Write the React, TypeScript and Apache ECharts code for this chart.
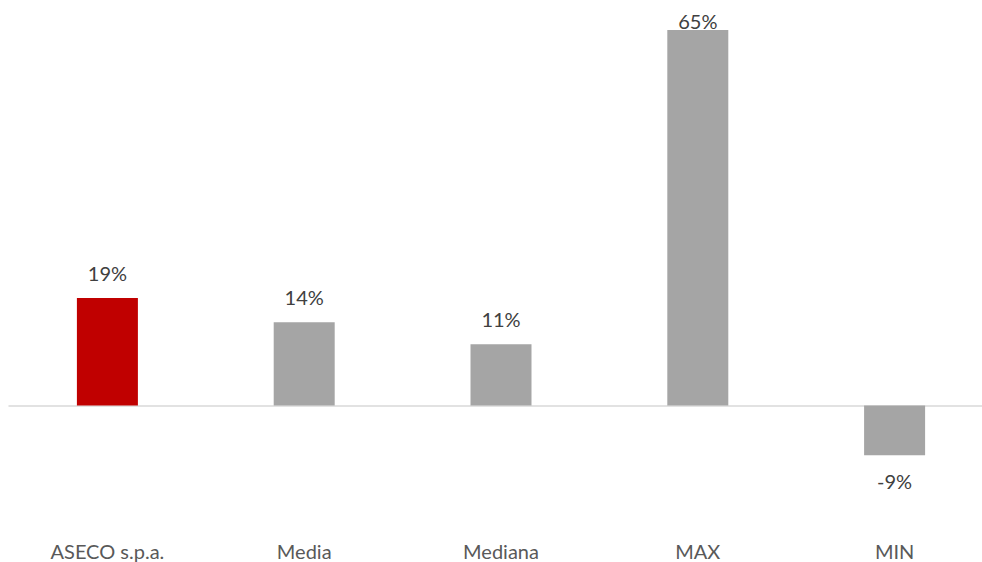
import React, { useEffect, useRef } from "react";
import * as echarts from "echarts";

const categories = ["ASECO s.p.a.", "Media", "Mediana", "MAX", "MIN"];
const values = [18.6, 14.4, 10.6, 65, -8.6];
const barColors = ["#C00000", "#A5A5A5", "#A5A5A5", "#A5A5A5", "#A5A5A5"];

const FONT = "Lato, 'Open Sans', sans-serif";

export default function App() {
  const ref = useRef<HTMLDivElement>(null);
  useEffect(() => {
    if (!ref.current) return;
    const chart = echarts.init(ref.current, null, { renderer: "svg" });
    const data = values.map((v, i) => {
      const item: any = { value: v, itemStyle: { color: barColors[i] } };
      if (categories[i] === "MAX") item.label = { distance: -1 };
      if (v < 0) item.label = { position: "bottom", distance: 16 };
      return item;
    });
    chart.setOption({
      animation: false,
      backgroundColor: "#ffffff",
      grid: { left: 9, width: 984, top: 1, height: 520 },
      xAxis: [
        {
          type: "category",
          data: categories,
          position: "bottom",
          axisLine: { show: false, onZero: false },
          axisTick: { show: false },
          axisLabel: { color: "#595959", fontSize: 20, fontFamily: FONT, margin: 20 },
        },
        {
          type: "category",
          data: categories,
          position: "bottom",
          axisLine: { show: true, onZero: true, lineStyle: { color: "#D9D9D9", width: 1.5 } },
          axisTick: { show: false },
          axisLabel: { show: false },
        },
      ],
      yAxis: {
        type: "value",
        min: -20,
        max: 70,
        show: false,
        splitLine: { show: false },
      },
      series: [
        {
          type: "bar",
          xAxisIndex: 0,
          data,
          barWidth: 61,
          label: {
            show: true,
            position: "top",
            distance: 15,
            color: "#404040",
            fontSize: 20,
            fontFamily: FONT,
            formatter: (p: any) => Math.round(p.value) + "%",
          },
        },
      ],
    });
    return () => chart.dispose();
  }, []);
  return (
    <div style={{ width: 982, height: 562, position: "absolute", left: 0, top: 0, overflow: "hidden" }}>
      <div ref={ref} style={{ width: 1000, height: 562 }} />
    </div>
  );
}
